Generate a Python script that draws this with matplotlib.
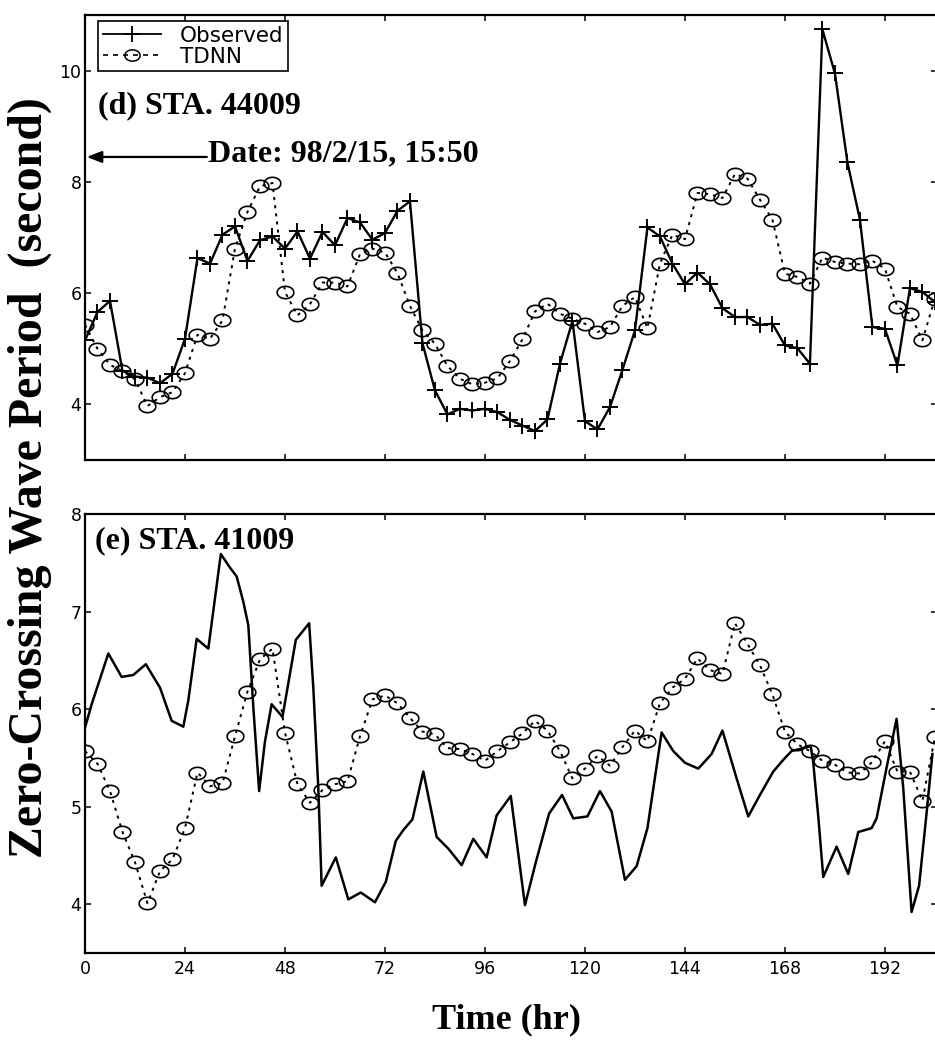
import numpy as np
import matplotlib
matplotlib.use("Agg")
import matplotlib.pyplot as plt
from matplotlib.path import Path
from matplotlib.lines import Line2D

# ---------------- Station 44009 (3-hourly values) ----------------
hours_44009 = np.arange(0, 205, 3)
observed_44009 = [
    5.15, 5.66, 5.86, 4.60, 4.50, 4.48, 4.38, 4.55, 5.18, 6.63,
    6.53, 7.05, 7.20, 6.58, 6.95, 7.02, 6.80, 7.11, 6.62, 7.10,
    6.86, 7.35, 7.27, 6.96, 7.08, 7.48, 7.65, 5.10, 4.25, 3.82,
    3.92, 3.89, 3.92, 3.86, 3.72, 3.62, 3.52, 3.73, 4.73, 5.50,
    3.70, 3.55, 3.95, 4.62, 5.33, 7.18, 7.02, 6.53, 6.16, 6.37,
    6.16, 5.73, 5.57, 5.57, 5.43, 5.45, 5.06, 5.01, 4.73, 10.74,
    9.95, 8.35, 7.32, 5.39, 5.36, 4.70, 6.09, 6.02, 5.84,
]
tdnn_44009 = [
    5.43, 5.00, 4.71, 4.60, 4.45, 3.97, 4.13, 4.22, 4.56, 5.25,
    5.18, 5.51, 6.80, 7.46, 7.92, 7.98, 6.02, 5.60, 5.80, 6.19,
    6.19, 6.12, 6.70, 6.80, 6.73, 6.36, 5.77, 5.33, 5.09, 4.69,
    4.46, 4.36, 4.39, 4.47, 4.78, 5.17, 5.67, 5.81, 5.63, 5.54,
    5.45, 5.30, 5.39, 5.77, 5.93, 5.37, 6.53, 7.05, 6.97, 7.80,
    7.78, 7.71, 8.14, 8.06, 7.68, 7.32, 6.35, 6.29, 6.17, 6.64,
    6.56, 6.53, 6.52, 6.58, 6.44, 5.75, 5.63, 5.15, 5.90,
]

# ---------------- Station 41009 ----------------
obs_hours_41009 = [
    0, 1.6, 5.6, 8.8, 11.6, 14.6, 18, 20.8, 23.6, 24.8,
    26.8, 29.6, 32.6, 34.8, 36.4, 38, 39.2, 40.4, 41.8, 43.2,
    44.8, 47.4, 50.6, 53.8, 54.8, 56, 56.8, 60.2, 63.2, 66.2,
    69.6, 72.2, 74.6, 76.4, 78.6, 81.2, 84.4, 87.2, 90.4, 93.2,
    96.4, 98.8, 102.2, 105.6, 108.2, 111.4, 114.5, 117.2, 120.6, 123.6,
    126.4, 129.6, 132.4, 135, 138.4, 141.2, 144, 147.2, 150.4, 153,
    156.4, 159.2, 162, 165.2, 167.6, 169.6, 174.2, 174.8, 176, 177.2,
    180.4, 183.2, 185.6, 188.8, 190, 192.4, 194.8, 196.4, 198.4, 200.2,
    201.8, 203.4,
]
observed_41009 = [
    5.81, 6.05, 6.57, 6.33, 6.35, 6.46, 6.22, 5.88, 5.82, 6.09,
    6.72, 6.62, 7.59, 7.45, 7.36, 7.10, 6.86, 6.02, 5.16, 5.67,
    6.05, 5.92, 6.71, 6.88, 6.22, 5.19, 4.19, 4.48, 4.05, 4.12,
    4.02, 4.23, 4.65, 4.76, 4.87, 5.36, 4.69, 4.57, 4.40, 4.67,
    4.48, 4.91, 5.11, 3.99, 4.43, 4.93, 5.12, 4.88, 4.90, 5.16,
    4.95, 4.25, 4.39, 4.78, 5.76, 5.57, 5.45, 5.39, 5.54, 5.78,
    5.29, 4.90, 5.12, 5.36, 5.48, 5.57, 5.62, 5.45, 4.90, 4.28,
    4.59, 4.31, 4.74, 4.78, 4.88, 5.40, 5.90, 5.19, 3.92, 4.19,
    4.85, 5.54,
]
tdnn_hours_41009 = np.arange(0, 205, 3)
tdnn_41009 = [
    5.57, 5.44, 5.16, 4.74, 4.43, 4.01, 4.34, 4.46, 4.78, 5.35,
    5.21, 5.24, 5.72, 6.18, 6.51, 6.62, 5.76, 5.23, 5.04, 5.17,
    5.23, 5.26, 5.72, 6.10, 6.14, 6.06, 5.91, 5.77, 5.74, 5.60,
    5.59, 5.54, 5.47, 5.57, 5.66, 5.75, 5.88, 5.78, 5.57, 5.29,
    5.39, 5.52, 5.42, 5.61, 5.78, 5.67, 6.06, 6.22, 6.31, 6.52,
    6.40, 6.36, 6.88, 6.67, 6.45, 6.15, 5.77, 5.64, 5.57, 5.47,
    5.43, 5.35, 5.34, 5.46, 5.67, 5.36, 5.36, 5.06, 5.71,
]

x_ticks = [0, 24, 48, 72, 96, 120, 144, 168, 192]
y_ticks_44009 = [4, 6, 8, 10]
y_ticks_41009 = [4, 5, 6, 7, 8]

# ---------------- styling ----------------
W, H = 935, 1045
fig = plt.figure(figsize=(W / 100, H / 100), dpi=100)
fig.patch.set_facecolor("white")

SERIF = ["Liberation Serif", "DejaVu Serif"]
SANS = ["DejaVu Sans"]

# slightly flattened circle marker
theta = np.linspace(0, 2 * np.pi, 41)
ellipse = Path(np.column_stack([1.35 * np.cos(theta), np.sin(theta)]))

obs_style = dict(color="black", lw=1.7, marker="+", ms=12, mew=1.4)
tdnn_style = dict(color="black", lw=1.4, ls=(0, (1.6, 2.6)), marker=ellipse,
                  ms=12, mew=1.2, mfc="none", mec="black")


def px_axes(left, top, right, bottom):
    return fig.add_axes([left / W, 1 - bottom / H, (right - left) / W, (bottom - top) / H])


def style_axes(ax, yticks):
    ax.set_xticks(x_ticks)
    ax.set_yticks(yticks)
    ax.tick_params(direction="in", length=4, width=1.1, top=True, right=True,
                   labelsize=12.5, pad=2.5)
    for lab in ax.get_xticklabels() + ax.get_yticklabels():
        lab.set_family(SANS)
    for sp in ax.spines.values():
        sp.set_linewidth(1.6)
        sp.set_color("black")


XMAX = 204.5

# ---- panel (d) ----
ax1 = px_axes(85, 15, 937, 460)
ax1.plot(hours_44009, observed_44009, **obs_style)
ax1.plot(hours_44009, tdnn_44009, **tdnn_style)
ax1.set_xlim(0, XMAX)
ax1.set_ylim(3, 11)
style_axes(ax1, y_ticks_44009)
ax1.tick_params(labelbottom=False)

legend_handles = [
    Line2D([], [], color="black", lw=1.3, marker="+", ms=11, mew=1.3),
    Line2D([], [], color="black", lw=1.2, ls=(0, (3, 3)), marker=ellipse, ms=11,
           mew=1.1, mfc="none"),
]
leg = ax1.legend(legend_handles, ["Observed", "TDNN"], loc="upper left",
                 bbox_to_anchor=(0.015, 0.987), borderaxespad=0, numpoints=1,
                 handlelength=2.7, handletextpad=0.9, borderpad=0.22,
                 labelspacing=0.05, fancybox=False, framealpha=1,
                 prop={"family": SANS, "size": 15.5})
leg.get_frame().set_edgecolor("black")
leg.get_frame().set_linewidth(1.2)

ax1.text(0.015, 0.78, "(d) STA. 44009", transform=ax1.transAxes,
         family=SERIF, weight="bold", fontsize=23, ha="left", va="baseline")
ax1.text(0.144, 0.670, "Date: 98/2/15, 15:50", transform=ax1.transAxes,
         family=SERIF, weight="bold", fontsize=23, ha="left", va="baseline")
ax1.annotate("", xy=(0.002, 0.681), xytext=(0.143, 0.681),
             xycoords="axes fraction", textcoords="axes fraction",
             arrowprops=dict(arrowstyle="-|>,head_length=0.9,head_width=0.35",
                             color="black", lw=1.6, shrinkA=0, shrinkB=0))

# ---- panel (e) ----
ax2 = px_axes(85, 514, 937, 953)
ax2.plot(obs_hours_41009, observed_41009, color="black", lw=1.8)
ax2.plot(tdnn_hours_41009, tdnn_41009, **tdnn_style)
ax2.set_xlim(0, XMAX)
ax2.set_ylim(3.5, 8)
style_axes(ax2, y_ticks_41009)
ax2.tick_params(axis="x", pad=5)
ax2.text(0.012, 0.922, "(e) STA. 41009", transform=ax2.transAxes,
         family=SERIF, weight="bold", fontsize=23, ha="left", va="baseline")

# ---- shared axis titles ----
fig.text(30 / W, 1 - 478 / H, "Zero-Crossing Wave Period  (second)",
         rotation=90, ha="center", va="center", family=SERIF, weight="bold",
         fontsize=34.5)
fig.text(507 / W, 1 - 1020 / H, "Time (hr)", ha="center", va="center",
         family=SERIF, weight="bold", fontsize=26)

fig.savefig("out.png", dpi=100, facecolor="white")
